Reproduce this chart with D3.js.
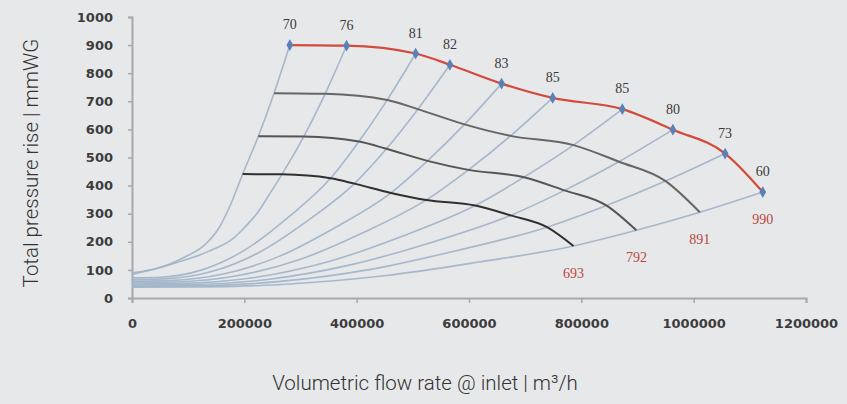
<!DOCTYPE html>
<html>
<head>
<meta charset="utf-8">
<script src="https://cdn.jsdelivr.net/npm/d3@7"></script>
<style>
  html, body { margin: 0; padding: 0; background: #e7e8ea; }
  svg { display: block; }
</style>
</head>
<body>
<svg id="chart" width="847" height="404"></svg>
<script>
// ---------- DATA ----------
const xTickValues = [0, 200000, 400000, 600000, 800000, 1000000, 1200000];
const yTickValues = [0, 100, 200, 300, 400, 500, 600, 700, 800, 900, 1000];

// 990 rpm curve (red) with efficiency points
const flow990 = [281000, 382000, 505000, 566000, 658000, 749000, 873000, 963000, 1056000, 1123000];
const pres990 = [900, 898, 870, 830, 763, 712, 672, 599, 514, 377];
const efficiency = [70, 76, 81, 82, 83, 85, 85, 80, 73, 60];

// lower speed curves
const flow891 = [253000, 344000, 454500, 509000, 592000, 674000, 786000, 867000, 950000, 1011000];
const pres891 = [729, 727, 705, 672, 618, 577, 544, 485, 416, 305];
const flow792 = [225000, 306000, 404000, 453000, 526000, 599000, 698000, 770000, 845000, 898000];
const pres792 = [576, 575, 557, 531, 488, 456, 430, 383, 329, 241];
const flow693 = [197000, 267000, 353500, 396000, 461000, 524000, 611000, 674000, 739000, 786000];
const pres693 = [441, 440, 426, 407, 374, 349, 329, 294, 252, 185];

const speedLabels = [990, 891, 792, 693];

// system resistance lines [flow, pressure]
const sysLine1 = [[0,90],[46000,106],[94000,146],[130000,190],[155000,250],[175000,330],[197000,441],[225000,576],[253000,729],[281000,900]];
const sysLine2 = [[0,84],[76000,124],[135000,165],[183000,217],[200000,250],[224000,305],[245000,370],[267000,440],[306000,575],[344000,727],[382000,898]];
const sysLine3 = [[0,72],[50500,74],[126000,101],[202000,172],[278000,287],[353500,426],[404000,557],[454500,705],[505000,870]];
const sysLine4 = [[0,66],[56600,68],[141500,94],[226000,162],[311000,273],[396000,407],[453000,531],[509000,672],[566000,830]];
const sysLine5 = [[0,60],[65800,62],[164500,86],[263000,149],[362000,251],[461000,374],[526000,488],[592000,618],[658000,763]];
const sysLine6 = [[0,55],[75000,57],[187000,79],[300000,138],[412000,233],[524000,349],[599000,456],[674000,577],[749000,712]];
const sysLine7 = [[0,50],[87000,52],[218000,73],[349000,129],[480000,219],[611000,329],[698000,430],[786000,544],[873000,672]];
const sysLine8 = [[0,46],[96000,47],[241000,66],[385000,116],[530000,196],[674000,294],[770000,383],[867000,485],[963000,599]];
const sysLine9 = [[0,42],[106000,43],[264000,59],[422000,101],[581000,170],[739000,252],[845000,329],[950000,416],[1056000,514]];
const sysLine10 = [[0,38],[112000,39],[281000,50],[449000,79],[618000,128],[786000,185],[898000,241],[1011000,305],[1123000,377]];

// ---------- CHART ----------
const svg = d3.select("#chart");
const x = d3.scaleLinear().domain([0, 1200000]).range([132, 806]);
const y = d3.scaleLinear().domain([0, 1000]).range([298, 17]);

const tickFont = "'DejaVu Sans', sans-serif";
const titleFont = "Roboto, 'Open Sans', sans-serif";
const serifFont = "'Liberation Serif', 'DejaVu Serif', serif";

// axes
const xAxis = svg.append("g")
  .attr("transform", `translate(0,${y(0)})`)
  .call(d3.axisBottom(x).tickValues(xTickValues).tickFormat(d3.format("d")).tickSize(5).tickPadding(16));
const yAxis = svg.append("g")
  .attr("transform", `translate(${x(0)},0)`)
  .call(d3.axisLeft(y).tickValues(yTickValues).tickFormat(d3.format("d")).tickSize(4).tickPadding(15));

[xAxis, yAxis].forEach(g => {
  g.select(".domain").attr("stroke", "#a6a8ab").attr("stroke-width", 2);
  g.selectAll(".tick line").attr("stroke", "#a6a8ab").attr("stroke-width", 1.5);
  g.selectAll(".tick text")
    .attr("fill", "#3c3c3c")
    .style("font-family", tickFont)
    .style("font-weight", "bold")
    .style("font-size", "13px");
});
xAxis.selectAll(".tick text").attr("dy", "0.71em");

// titles
svg.append("text")
  .attr("x", 425)
  .attr("y", 390)
  .attr("text-anchor", "middle")
  .attr("fill", "#333")
  .style("font-family", titleFont)
  .style("font-weight", 300)
  .style("font-size", "20.5px")
  .text("Volumetric flow rate @ inlet | m³/h");

svg.append("text")
  .attr("transform", `translate(38,163) rotate(-90)`)
  .attr("text-anchor", "middle")
  .attr("fill", "#333")
  .style("font-family", titleFont)
  .style("font-weight", 300)
  .style("font-size", "20.5px")
  .text("Total pressure rise | mmWG");

const line = d3.line()
  .x(d => x(d[0]))
  .y(d => y(d[1]))
  .curve(d3.curveMonotoneX);

// system lines
const sysLines = [sysLine1, sysLine2, sysLine3, sysLine4, sysLine5, sysLine6, sysLine7, sysLine8, sysLine9, sysLine10];
svg.append("g").selectAll("path")
  .data(sysLines)
  .join("path")
  .attr("d", line)
  .attr("fill", "none")
  .attr("stroke", "#9fb2c8")
  .attr("stroke-width", 1.6)
  .attr("stroke-opacity", 0.9);

// speed curves
const zip = (a, b) => a.map((v, i) => [v, b[i]]);
const speedCurves = [
  { pts: zip(flow891, pres891), color: "#666666" },
  { pts: zip(flow792, pres792), color: "#555555" },
  { pts: zip(flow693, pres693), color: "#303030" }
];
svg.append("g").selectAll("path")
  .data(speedCurves)
  .join("path")
  .attr("d", d => line(d.pts))
  .attr("fill", "none")
  .attr("stroke", d => d.color)
  .attr("stroke-width", 2);

// top (990 rpm) curve
const topPts = zip(flow990, pres990);
svg.append("path")
  .attr("d", line(topPts))
  .attr("fill", "none")
  .attr("stroke", "#d24b3c")
  .attr("stroke-width", 2.2);

svg.append("g").selectAll("path")
  .data(topPts)
  .join("path")
  .attr("transform", d => `translate(${x(d[0])},${y(d[1])})`)
  .attr("d", d3.symbol().type(d3.symbolDiamond).size(40))
  .attr("fill", "#5a80b8");

// efficiency labels
svg.append("g").selectAll("text")
  .data(topPts)
  .join("text")
  .attr("x", d => x(d[0]))
  .attr("y", d => y(d[1]) - 16)
  .attr("text-anchor", "middle")
  .attr("fill", "#3a3a3a")
  .style("font-family", serifFont)
  .style("font-size", "14px")
  .text((d, i) => efficiency[i]);

// speed labels at end of each curve
const ends = [
  [flow990[flow990.length - 1], pres990[pres990.length - 1]],
  [flow891[flow891.length - 1], pres891[pres891.length - 1]],
  [flow792[flow792.length - 1], pres792[pres792.length - 1]],
  [flow693[flow693.length - 1], pres693[pres693.length - 1]]
];
svg.append("g").selectAll("text")
  .data(ends)
  .join("text")
  .attr("x", d => x(d[0]))
  .attr("y", d => y(d[1]) + 32)
  .attr("text-anchor", "middle")
  .attr("fill", "#b9473f")
  .style("font-family", serifFont)
  .style("font-size", "14px")
  .text((d, i) => speedLabels[i]);
</script>
</body>
</html>
